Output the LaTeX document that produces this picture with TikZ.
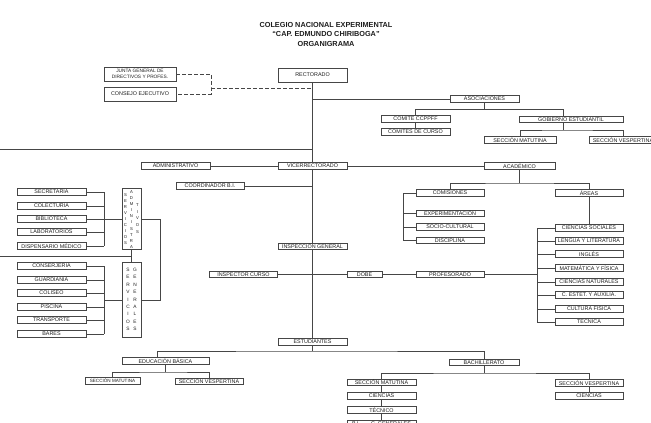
\documentclass[tikz,border=0pt]{standalone}
\usepackage{fontspec}
\setmainfont{Liberation Sans}
\usepackage{tikz}
\definecolor{lineink}{RGB}{70, 70, 70}
\definecolor{textink}{RGB}{30, 30, 30}

\begin{document}
\begin{tikzpicture}[x=1pt, y=-1pt, font=\fontsize{5.4}{6}\selectfont,
  unit/.style={draw=lineink, line width=0.7pt, text=textink, inner sep=0pt,
    minimum width=68pt, minimum height=6.5pt},
  link/.style={draw=lineink, line width=0.7pt},
  letters/.style={text=textink, inner sep=0pt, align=center}]
  \clip (0,0) rectangle (651,423);
  \node[align=center, text=textink, font=\fontsize{7.3}{9.5}\selectfont\bfseries] (title) at (326,34)
    {COLEGIO NACIONAL EXPERIMENTAL\\``CAP. EDMUNDO CHIRIBOGA''\\ORGANIGRAMA};

  % direction
  \node[unit, minimum width=69pt, minimum height=14pt] (rector) at (312.5,75) {RECTORADO};
  \node[unit, minimum width=72pt, minimum height=14pt, align=center,
    font=\fontsize{4.8}{5.6}\selectfont] (junta) at (140,74) {JUNTA GENERAL DE\\DIRECTIVOS Y PROFES.};
  \node[unit, minimum width=72pt, minimum height=14pt] (consejo) at (140,94) {CONSEJO EJECUTIVO};
  \coordinate (jc) at (211,88);
  \draw[link, dash pattern=on 4pt off 2pt] (junta.east) -| (jc) |- (consejo.east);
  \draw[link, dash pattern=on 4pt off 2pt] (jc) -- (rector.south |- jc);

  \node[unit, minimum width=69pt] (vice) at (312.5,166) {VICERRECTORADO};
  \node[unit, minimum width=69pt, minimum height=6pt] (insp) at (312.5,246.5) {INSPECCIÓN GENERAL};
  \node[unit, minimum width=69pt, minimum height=7pt] (estud) at (312.5,341.5) {ESTUDIANTES};
  \coordinate (split) at (312.5,351);
  \draw[link] (rector.south) -- (vice.north);
  \draw[link] (vice.south) -- (insp.north);
  \draw[link] (insp.south) -- (estud.north);
  \draw[link] (estud.south) -- (split);
  \coordinate (edgeA) at (0,149);
  \draw[link] (edgeA) -- (edgeA -| rector.south);

  % asociaciones
  \node[unit, minimum width=69pt] (asoc) at (484.5,99) {ASOCIACIONES};
  \node[unit, minimum width=69pt] (ccppff) at (415.5,119) {COMITE CCPPFF};
  \node[unit, minimum width=69pt] (cursos) at (415.5,132) {COMITES DE CURSO};
  \node[unit, minimum width=104pt] (gobierno) at (571,119.5) {GOBIERNO ESTUDIANTIL};
  \node[unit, minimum width=72pt] (gmat) at (520,140) {SECCIÓN MATUTINA};
  \node[unit] (gvesp) at (623,140) {SECCIÓN VESPERTINA};
  \coordinate (asplit) at (484.5,109);
  \coordinate (gdrop) at (563,109);
  \coordinate (gsplit) at (563,130);
  \draw[link] (asoc.west -| rector.south) -- (asoc.west);
  \draw[link] (asoc.south) -- (asplit);
  \draw[link] (ccppff.north) |- (gdrop) -- (gdrop |- gobierno.north);
  \draw[link] (ccppff.south) -- (cursos.north);
  \draw[link] (gdrop |- gobierno.south) -- (gsplit);
  \draw[link] (gmat.north) |- (gsplit) -| (gvesp.north);

  % vicerrectorado
  \node[unit, minimum width=69pt] (admin) at (175.5,166) {ADMINISTRATIVO};
  \node[unit, minimum width=71pt] (acad) at (519.5,166) {ACADÉMICO};
  \node[unit] (coord) at (210,186) {COORDINADOR B.I.};
  \draw[link] (admin.east) -- (vice.west);
  \draw[link] (vice.east) -- (acad.west);
  \draw[link] (coord.east) -- (coord.east -| rector.south);

  \node[unit] (comis) at (450,193) {COMISIONES};
  \node[unit] (areas) at (589,193) {ÁREAS};
  \coordinate (acsplit) at (519.5,183);
  \draw[link] (acad.south) -- (acsplit);
  \draw[link] (comis.north) |- (acsplit) -| (areas.north);

  \coordinate (cspine) at (403,193);
  \foreach \n/\y/\txt in {exper/213.5/EXPERIMENTACIÓN, socio/227/SOCIO-CULTURAL, disc/240.5/DISCIPLINA}{
    \node[unit] (\n) at (450,\y) {\txt};
    \draw[link] (cspine |- \n.west) -- (\n.west);
  }
  \draw[link] (comis.west) -- (cspine) -- (cspine |- disc.west);

  \coordinate (aspine) at (537,228);
  \foreach \n/\y/\txt in {soc/228/CIENCIAS SOCIALES, lit/241/LENGUA Y LITERATURA, ing/254/INGLÉS,
      mat/268/MATEMÁTICA Y FÍSICA, nat/282/CIENCIAS NATURALES, est/295/C. ESTET. Y AUXILIA.,
      cul/309/CULTURA FISICA, tec/322/TECNICA}{
    \node[unit] (\n) at (589,\y) {\txt};
    \draw[link] (aspine |- \n.west) -- (\n.west);
  }
  \draw[link] (areas.south) -- (soc.north);
  \draw[link] (aspine) -- (aspine |- tec.west);

  % inspeccion
  \node[unit] (icurso) at (243.5,274.5) {INSPECTOR CURSO};
  \node[unit, minimum width=35pt] (dobe) at (364.5,274.5) {DOBE};
  \node[unit] (prof) at (450,274.5) {PROFESORADO};
  \draw[link] (icurso.east) -- (dobe.west);
  \draw[link] (dobe.east) -- (prof.west);
  \draw[link] (prof.east) -- (prof.east -| aspine);

  % servicios
  \node[unit, minimum width=19pt, minimum height=61pt] (sadm) at (131.5,219) {};
  \node[letters, font=\fontsize{4.2}{6}\selectfont] (sadmA) at (125.5,219) {S\\E\\R\\V\\I\\C\\I\\O\\S};
  \node[letters, font=\fontsize{4.2}{6.1}\selectfont] (sadmB) at (131.5,219.5) {A\\D\\M\\I\\N\\I\\S\\T\\R\\A};
  \node[letters, font=\fontsize{4.2}{6.75}\selectfont] (sadmC) at (137.5,218.5) {T\\I\\V\\O\\S};
  \node[unit, minimum width=19pt, minimum height=75pt] (sgen) at (131.5,300) {};
  \node[letters, font=\fontsize{4.8}{7.4}\selectfont] (sgenA) at (128,299.5) {S\\E\\R\\V\\I\\C\\I\\O\\S};
  \node[letters, font=\fontsize{4.8}{7.4}\selectfont] (sgenB) at (135,299.5) {G\\E\\N\\E\\R\\A\\L\\E\\S};
  \coordinate (bracket) at (160,219);
  \draw[link] (sadm.east) -- (bracket) |- (sgen.east);
  \draw[link] (sadm.south) -- (sgen.north);
  \coordinate (edgeB) at (0,256);
  \draw[link] (edgeB) -- (edgeB -| sadm.south);

  \coordinate (lspine) at (104,192);
  \foreach \n/\y/\txt in {secr/192/SECRETARIA, cole/206/COLECTURIA, bibl/219/BIBLIOTECA,
      labo/232/LABORATORIOS, disp/246/DISPENSARIO MÉDICO}{
    \node[unit, minimum width=69pt] (\n) at (51.5,\y) {\txt};
    \draw[link] (\n.east) -- (lspine |- \n.east);
  }
  \draw[link] (lspine) -- (lspine |- disp.east);
  \draw[link] (lspine |- sadm.west) -- (sadm.west);

  \coordinate (gspine) at (104,266);
  \foreach \n/\y/\txt in {cons/266/CONSERJERIA, guar/280/GUARDIANIA, coli/293/COLISEO,
      pisc/307/PISCINA, tran/320/TRANSPORTE, bare/334/BARES}{
    \node[unit, minimum width=69pt] (\n) at (51.5,\y) {\txt};
    \draw[link] (\n.east) -- (gspine |- \n.east);
  }
  \draw[link] (gspine) -- (gspine |- bare.east);
  \draw[link] (gspine |- sgen.west) -- (sgen.west);

  % estudiantes
  \node[unit, minimum width=87pt] (ebas) at (165.5,361) {EDUCACIÓN BÁSICA};
  \node[unit, minimum width=70pt] (bach) at (484,362.5) {BACHILLERATO};
  \coordinate (eleft) at (157,351);
  \draw[link] (ebas.north -| eleft) |- (split) -| (bach.north);

  \node[unit, minimum width=55pt, font=\fontsize{4.6}{6}\selectfont] (emat) at (112.5,381) {SECCIÓN MATUTINA};
  \node[unit] (evesp) at (209,381.5) {SECCIÓN VESPERTINA};
  \coordinate (ebsplit) at (165.5,372);
  \draw[link] (ebas.south) -- (ebsplit);
  \draw[link] (emat.north) |- (ebsplit) -| (evesp.north);

  \node[unit, minimum width=69pt] (bmat) at (381.5,382.5) {SECCIÓN MATUTINA};
  \node[unit, minimum width=69pt] (bcien) at (381.5,396) {CIENCIAS};
  \node[unit, minimum width=69pt] (btec) at (381.5,410) {TÉCNICO};
  \node[unit, minimum width=69pt] (bbi) at (381.5,423.5) {B.I.\qquad C. GENERALES};
  \node[unit] (bvesp) at (589,383) {SECCIÓN VESPERTINA};
  \node[unit] (bvcien) at (589,396) {CIENCIAS};
  \coordinate (bsplit) at (484,373);
  \draw[link] (bach.south) -- (bsplit);
  \draw[link] (bmat.north) |- (bsplit) -| (bvesp.north);
  \draw[link] (bmat.south) -- (bcien.north);
  \draw[link] (bcien.south) -- (btec.north);
  \draw[link] (btec.south) -- (bbi.north);
  \draw[link] (bvesp.south) -- (bvcien.north);
\end{tikzpicture}
\end{document}
